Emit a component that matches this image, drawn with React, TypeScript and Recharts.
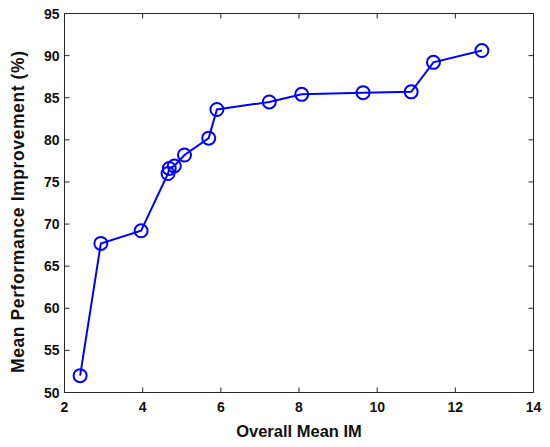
import { LineChart, Line, XAxis, YAxis } from "recharts";

// values
const imValues = [2.4, 2.93, 3.96, 4.65, 4.68, 4.81, 5.07, 5.69, 5.9, 7.24, 8.07, 9.64, 10.87, 11.44, 12.68];
const improvement = [52.0, 67.7, 69.2, 76.0, 76.6, 76.9, 78.2, 80.2, 83.6, 84.5, 85.4, 85.6, 85.7, 89.2, 90.6];
const xTicks = [2, 4, 6, 8, 10, 12, 14];
const yTicks = [50, 55, 60, 65, 70, 75, 80, 85, 90, 95];

const data = imValues.map((im, i) => ({ im, value: improvement[i] }));

const FONT = "'Liberation Sans', Arial, Helvetica, sans-serif";
const AXIS = "#262626";
const BLUE = "#0000ff";
const TICK_LEN = 5;

function Tick(props: any) {
  const { x, y, payload, side } = props;
  if (side === "bottom") {
    return (
      <g>
        <line x1={x} x2={x} y1={y} y2={y - TICK_LEN} stroke={AXIS} />
        <text x={x} y={y + 19} textAnchor="middle" fontFamily={FONT} fontWeight="bold" fontSize={14} fill="#111">
          {payload.value}
        </text>
      </g>
    );
  }
  if (side === "left") {
    return (
      <g>
        <line x1={x} x2={x + TICK_LEN} y1={y} y2={y} stroke={AXIS} />
        <text x={x - 5} y={y + 5} textAnchor="end" fontFamily={FONT} fontWeight="bold" fontSize={14} fill="#111">
          {payload.value}
        </text>
      </g>
    );
  }
  if (side === "top") {
    return <line x1={x} x2={x} y1={y} y2={y + TICK_LEN} stroke={AXIS} />;
  }
  return <line x1={x} x2={x - TICK_LEN} y1={y} y2={y} stroke={AXIS} />;
}

export default function App() {
  return (
    <div style={{ position: "absolute", left: 0, top: 0, width: 550, height: 447, background: "#fff" }}>
      <LineChart
        width={550}
        height={447}
        data={data}
        margin={{ top: 12.5, right: 15.5, left: 10.5, bottom: 10.5 }}
      >
        <XAxis
          xAxisId="b"
          dataKey="im"
          type="number"
          domain={[2, 14]}
          ticks={xTicks}
          height={44}
          tickSize={0}
          tickMargin={0}
          stroke={AXIS}
          tick={<Tick side="bottom" />}
          interval={0}
        />
        <XAxis
          xAxisId="t"
          dataKey="im"
          type="number"
          orientation="top"
          domain={[2, 14]}
          ticks={xTicks}
          height={1}
          tickSize={0}
          tickMargin={0}
          stroke={AXIS}
          tick={<Tick side="top" />}
          interval={0}
        />
        <YAxis
          yAxisId="l"
          type="number"
          domain={[50, 95]}
          ticks={yTicks}
          width={54}
          tickSize={0}
          tickMargin={0}
          stroke={AXIS}
          tick={<Tick side="left" />}
          interval={0}
        />
        <YAxis
          yAxisId="r"
          type="number"
          orientation="right"
          domain={[50, 95]}
          ticks={yTicks}
          width={1}
          tickSize={0}
          tickMargin={0}
          stroke={AXIS}
          tick={<Tick side="right" />}
          interval={0}
        />
        {/* invisible series so the top/right box axes get drawn */}
        <Line
          xAxisId="t"
          yAxisId="r"
          dataKey="value"
          stroke="none"
          dot={false}
          activeDot={false}
          isAnimationActive={false}
        />
        <Line
          xAxisId="b"
          yAxisId="l"
          type="linear"
          dataKey="value"
          stroke={BLUE}
          strokeWidth={2}
          dot={{ r: 6.5, stroke: BLUE, strokeWidth: 2, fill: "none" }}
          isAnimationActive={false}
        />
      </LineChart>
      <svg
        width={550}
        height={447}
        style={{ position: "absolute", left: 0, top: 0, pointerEvents: "none" }}
      >
        <text x={299} y={437} textAnchor="middle" fontFamily={FONT} fontWeight="bold" fontSize={16.5} fill="#111">
          Overall Mean IM
        </text>
        <text
          x={0}
          y={0}
          transform="translate(24 212) rotate(-90)"
          textAnchor="middle"
          fontFamily={FONT}
          fontWeight="bold"
          fontSize={17.5}
          textLength={322}
          lengthAdjust="spacing"
          fill="#111"
        >
          Mean Performance Improvement (%)
        </text>
      </svg>
    </div>
  );
}
